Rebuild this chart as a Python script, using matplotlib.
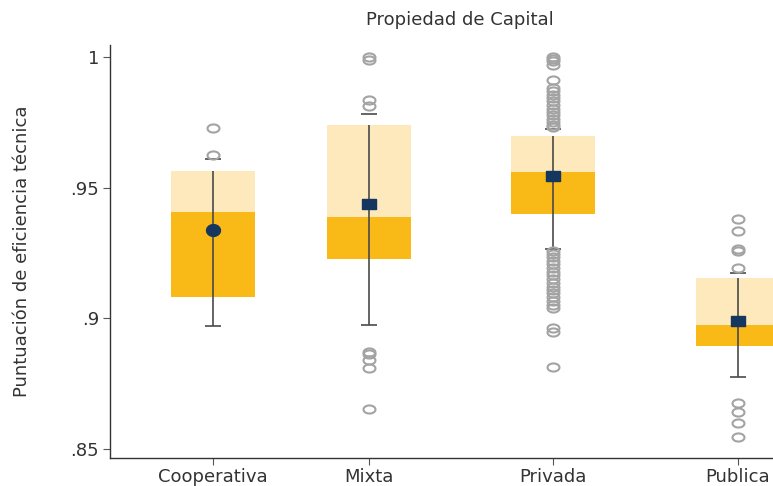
import matplotlib
matplotlib.use('Agg')

import matplotlib.pyplot as plt
import numpy as np
from matplotlib.path import Path

plt.rcParams['font.family'] = ['DejaVu Sans']

# Grupos de propiedad de capital
grupos = ['Cooperativa', 'Mixta', 'Privada', 'Publica']
posiciones = [1.0, 2.0, 3.18, 4.365]

# Cuartiles, mediana y bigotes de la eficiencia técnica
q1 = [0.9082, 0.9227, 0.9400, 0.8894]
mediana = [0.9407, 0.9387, 0.9559, 0.8973]
q3 = [0.9563, 0.9739, 0.9696, 0.9152]
bigote_inf = [0.8969, 0.8973, 0.9265, 0.8775]
bigote_sup = [0.9608, 0.9782, 0.9725, 0.9171]
media = [0.9337, 0.9436, 0.9544, 0.8989]

# Valores atípicos por grupo
atipicos = [
    [0.9729, 0.9625],
    [1.0000, 0.9989, 0.9835, 0.9812, 0.8870, 0.8862, 0.8839, 0.8807, 0.8650],
    [1.0000, 0.9994, 0.9986, 0.9968, 0.9910, 0.9882, 0.9868, 0.9855, 0.9842,
     0.9830, 0.9815, 0.9802, 0.9790, 0.9776, 0.9763, 0.9751, 0.9741, 0.9733,
     0.9255, 0.9245, 0.9232, 0.9220, 0.9205, 0.9190, 0.9178, 0.9165, 0.9150,
     0.9135, 0.9120, 0.9108, 0.9095, 0.9080, 0.9065, 0.9050, 0.9038,
     0.8962, 0.8948, 0.8813],
    [0.9379, 0.9335, 0.9263, 0.9255, 0.9193, 0.8676, 0.8641, 0.8597, 0.8543],
]

c_claro = '#fde9bb'
c_oscuro = '#f9b916'
c_media = '#15365f'
c_gris = '#a3a3a3'
c_linea = '#4a4a4a'

# marcadores ovalados (ancho > alto)
t = np.linspace(0, 2 * np.pi, 40)
ovalo = Path(np.c_[np.cos(t), 0.68 * np.sin(t)], closed=True)
ovalo_media = Path(np.c_[np.cos(t), 0.85 * np.sin(t)], closed=True)
rect = Path([(-1, -0.78), (1, -0.78), (1, 0.78), (-1, 0.78), (-1, -0.78)], closed=True)

fig = plt.figure(figsize=(7.73, 4.86), dpi=100)
ax = fig.add_axes([110 / 773, 28 / 486, 1 - 110 / 773, (458 - 45) / 486])

ancho = 0.54
abajo = np.array(mediana) - np.array(q1)
arriba = np.array(q3) - np.array(mediana)
ax.bar(posiciones, abajo, bottom=q1, width=ancho, color=c_oscuro, zorder=1)
ax.bar(posiciones, arriba, bottom=mediana, width=ancho, color=c_claro, zorder=1)

# bigotes
ax.vlines(posiciones, bigote_inf, q3, color=c_linea, lw=1.2, zorder=2)
cap = 0.05
for x, lo, hi in zip(posiciones, bigote_inf, bigote_sup):
    ax.hlines([lo, hi], x - cap, x + cap, color=c_linea, lw=1.2, zorder=2)

for x, vals in zip(posiciones, atipicos):
    ax.plot([x] * len(vals), vals, linestyle='none', marker=ovalo, ms=8.6,
            mfc='none', mec=c_gris, mew=1.5, zorder=3)

for i, (x, m) in enumerate(zip(posiciones, media)):
    mk = ovalo_media if i == 0 else rect
    ax.plot(x, m, marker=mk, ms=10, color=c_media, linestyle='none', zorder=4)

ax.set_xlim(0.34, 4.59)
ax.set_ylim(1 - 401 / 2610, 1 + 12 / 2610)
ax.set_xticks(posiciones)
ax.set_xticklabels(grupos)
ax.set_yticks([0.85, 0.9, 0.95, 1.0])
ax.set_yticklabels(['.85', '.9', '.95', '1'])

for s in ['top', 'right']:
    ax.spines[s].set_visible(False)
for s in ['left', 'bottom']:
    ax.spines[s].set_color('#333333')
    ax.spines[s].set_linewidth(1.0)
ax.tick_params(axis='both', direction='out', length=5, width=0.8,
               color='#555555', labelcolor='#333333', labelsize=13)
ax.tick_params(axis='y', pad=3)
ax.tick_params(axis='x', pad=2)

ax.set_ylabel('Puntuación de eficiencia técnica', fontsize=13, color='#333333', labelpad=28)
fig.text(460 / 773, 1 - 20 / 486, 'Propiedad de Capital', ha='center', va='center',
         fontsize=13, color='#333333')

fig.savefig('out.png', dpi=100)
